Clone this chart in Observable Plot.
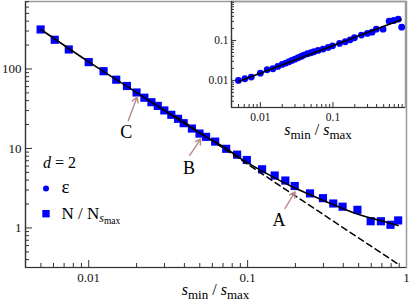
<!DOCTYPE html>
<html><head><meta charset="utf-8">
<script src="https://cdn.jsdelivr.net/npm/d3@7"></script>
<script src="https://cdn.jsdelivr.net/npm/@observablehq/plot@0.6"></script>
<style>
body{margin:0;background:#fff;}
#wrap{position:relative;width:409px;height:302px;}
#wrap svg{position:absolute;top:0;}
#wrap svg, #wrap svg text, #wrap svg g{font-family:'Liberation Serif',serif !important;}
</style></head><body><div id="wrap"></div>
<script>
// ---------- data ----------
const sRatio = [0.00498,0.00611,0.00749,0.0100,0.0124,0.0149,0.0174,0.0200,0.0224,0.0248,0.0272,0.0299,0.0331,0.0365,0.0396,0.0446,0.0498,0.0548,0.0625,0.0733,0.0859,0.0989,0.1233,0.148,0.1727,0.198,0.247,0.298,0.346,0.396,0.491,0.595,0.69,0.793,0.886];
const nRatio = [314,233,176,122,93.8,73.3,61.1,50.6,43.5,38.2,34.3,30.1,26.5,23.6,20.8,17.8,15.4,14.0,12.2,9.9,8.36,7.16,5.47,4.57,3.95,3.37,2.72,2.37,2.03,1.85,1.69,1.214,1.214,1.096,1.243];
const epsValues = [0.0100,0.0110,0.0121,0.0152,0.0185,0.0196,0.0224,0.0251,0.0271,0.0293,0.0316,0.0341,0.0369,0.0398,0.0430,0.0465,0.0492,0.0521,0.0562,0.0607,0.0668,0.0736,0.0841,0.0927,0.104,0.117,0.136,0.150,0.161,0.192,0.192,0.304,0.316,0.341,0.215];

const fitX = [0.005,0.01,0.02,0.03,0.05,0.0733,0.09,0.145,0.197,0.30,0.485,0.785,0.886];
const fitY = [314,123,50.5,30,15.6,10.0,7.5,4.36,3.2,2.22,1.51,1.15,1.075];
const powerX = [0.035,0.886];
const powerY = [25.5,0.35];
const insetFitX = [0.005,0.87];
const insetFitY = [0.0094,0.329];

const markLabels = ["C","B","A"];
const arrowTailX = [0.01776,0.04322,0.172];
const arrowTailY = [22.5,8.17,1.759];
const arrowTipX = [0.02014,0.05068,0.1988];
const arrowTipY = [44.4,13.17,2.836];
const labelX = [0.01725,0.04273,0.1577];
const labelY = [15.9,5.56,1.243];

const xDomain = [0.004,1];
const yDomain = [0.318,706];
const xMajor = [0.01,0.1,1];
const xMinor = [0.005,0.006,0.007,0.008,0.009,0.02,0.03,0.04,0.05,0.06,0.07,0.08,0.09,0.2,0.3,0.4,0.5,0.6,0.7,0.8,0.9];
const yMajor = [1,10,100];
const yMinor = [0.4,0.5,0.6,0.7,0.8,0.9,2,3,4,5,6,7,8,9,20,30,40,50,60,70,80,90,200,300,400,500,600,700];

const insetXDomain = [0.004,1];
const insetYDomain = [0.0021,0.944];
const insetYMajor = [0.01,0.1];
const insetYMinor = [0.003,0.004,0.005,0.006,0.007,0.008,0.009,0.02,0.03,0.04,0.05,0.06,0.07,0.08,0.09,0.2,0.3,0.4,0.5,0.6,0.7,0.8,0.9];
const insetXMajor = [0.01,0.1,1];

// ---------- tables ----------
const points = sRatio.map((s,i)=>({s, n:nRatio[i], e:epsValues[i]}));
const fit = fitX.map((x,i)=>({x, y:fitY[i]}));
const power = powerX.map((x,i)=>({x, y:powerY[i]}));
const insetFit = insetFitX.map((x,i)=>({x, y:insetFitY[i]}));
const notes = markLabels.map((t,i)=>({t, x1:arrowTailX[i], y1:arrowTailY[i], x2:arrowTipX[i], y2:arrowTipY[i], lx:labelX[i], ly:labelY[i]}));

const FONT = "'Liberation Serif', serif";
const AX = "#333";
const FR = "#9a9a9a";
const BLUE = "#0000ff";
const ROSE = "#bc8f8f";

// ---------- main chart ----------
const mW = 409, mH = 302, mL = 25, mR = 3, mT = 1, mB = 35;
const pW = mW - mL - mR, pH = mH - mT - mB;
const main = Plot.plot({
  width: mW, height: mH, marginLeft: mL, marginRight: mR, marginTop: mT, marginBottom: mB,
  style: {fontFamily: FONT, fontSize: "13px", background: "white", color: "#111"},
  x: {type: "log", domain: xDomain},
  y: {type: "log", domain: yDomain},
  marks: [
    Plot.frame({stroke: FR, strokeWidth: 1.5}),
    Plot.ruleX([xDomain[0]], {stroke: AX, strokeWidth: 1.2}),
    Plot.ruleY([yDomain[0]], {stroke: AX, strokeWidth: 1.2}),
    Plot.tickX(xMajor.filter(d=>d<1), {x: d=>d, insetTop: pH-7, stroke: AX}),
    Plot.tickX(xMinor, {x: d=>d, insetTop: pH-4, stroke: AX}),
    Plot.tickY(yMajor, {y: d=>d, insetRight: pW-7, stroke: AX}),
    Plot.tickY(yMinor, {y: d=>d, insetRight: pW-4, stroke: AX}),
    Plot.axisX({ticks: xMajor, tickSize: 0, tickPadding: 5, tickFormat: d=>String(d), label: null, fontSize: 13}),
    Plot.axisY({ticks: yMajor, tickSize: 0, tickPadding: 4, tickFormat: d=>String(d), label: null, fontSize: 13}),
    Plot.dot(points, {x: "s", y: "n", symbol: "square", r: 4.6, fill: BLUE}),
    Plot.line(power, {x: "x", y: "y", stroke: "black", strokeWidth: 1.5, strokeDasharray: "6,4"}),
    Plot.line(fit, {x: "x", y: "y", curve: "catmull-rom", stroke: "black", strokeWidth: 1.6}),
    Plot.arrow(notes, {x1: "x1", y1: "y1", x2: "x2", y2: "y2", stroke: ROSE, strokeWidth: 1.5, headLength: 6}),
    Plot.text(notes, {x: "lx", y: "ly", text: "t", fontSize: 18, fill: "black"})
  ]
});
main.style.left = "0px";
document.getElementById("wrap").appendChild(main);

// axis titles and legend as real text
function axisTitle(svg, cx, y) {
  const t = d3.select(svg).append("text").attr("x", cx).attr("y", y).attr("text-anchor", "middle")
    .style("font-family", FONT).attr("fill", "black").attr("font-size", 16);
  t.append("tspan").attr("font-style", "italic").text("s");
  t.append("tspan").attr("font-size", 13).attr("dy", 4).text("min");
  t.append("tspan").attr("dy", -4).text(" / ");
  t.append("tspan").attr("font-style", "italic").text("s");
  t.append("tspan").attr("font-size", 13).attr("dy", 4).text("max");
}
axisTitle(main, (mL + mW - mR)/2, 295);

const g = d3.select(main).append("g").style("font-family", FONT).attr("fill", "black").attr("text-anchor", "start");
const dt = g.append("text").attr("x", 43).attr("y", 168).attr("font-size", 16).attr("text-anchor", "start");
dt.append("tspan").attr("font-style", "italic").text("d");
dt.append("tspan").text(" = 2");
g.append("circle").attr("cx", 46).attr("cy", 188.5).attr("r", 3).attr("fill", BLUE);
g.append("text").attr("x", 61.5).attr("y", 193).attr("font-size", 19).attr("text-anchor", "start").text("ε");
g.append("rect").attr("x", 42.3).attr("y", 210).attr("width", 7.4).attr("height", 7.4).attr("fill", BLUE);
const nt = g.append("text").attr("x", 61.5).attr("y", 218.5).attr("font-size", 17).attr("text-anchor", "start");
nt.append("tspan").text("N / N");
nt.append("tspan").attr("font-size", 12).attr("font-style", "italic").attr("dy", 3).text("s");
nt.append("tspan").attr("font-size", 9.5).attr("dy", 2.5).text("max");

// ---------- inset ----------
const iLeft = 200;
const iW = 209, iH = 145, iL = 31, iR = 4, iT = 1, iB = 38;
const ipW = iW - iL - iR, ipH = iH - iT - iB;
const inset = Plot.plot({
  width: iW, height: iH, marginLeft: iL, marginRight: iR, marginTop: iT, marginBottom: iB,
  style: {fontFamily: FONT, fontSize: "11.5px", background: "transparent", color: "#111"},
  x: {type: "log", domain: insetXDomain},
  y: {type: "log", domain: insetYDomain},
  marks: [
    Plot.frame({stroke: FR, strokeWidth: 1.5}),
    Plot.ruleX([insetXDomain[0]], {stroke: AX, strokeWidth: 1.2}),
    Plot.ruleY([insetYDomain[0]], {stroke: AX, strokeWidth: 1.2}),
    Plot.tickX(insetXMajor.filter(d=>d<1), {x: d=>d, insetTop: ipH-5, stroke: AX}),
    Plot.tickX(xMinor, {x: d=>d, insetTop: ipH-3, stroke: AX}),
    Plot.tickY(insetYMajor, {y: d=>d, insetRight: ipW-5, stroke: AX}),
    Plot.tickY(insetYMinor, {y: d=>d, insetRight: ipW-3, stroke: AX}),
    Plot.axisX({ticks: insetXMajor.filter(d=>d<1), tickSize: 0, tickPadding: 5, tickFormat: d=>String(d), label: null, fontSize: 11.5}),
    Plot.axisY({ticks: insetYMajor, tickSize: 0, tickPadding: 3, tickFormat: d=>String(d), label: null, fontSize: 11.5}),
    Plot.dot(points, {x: "s", y: "e", r: 3.4, fill: BLUE}),
    Plot.line(insetFit, {x: "x", y: "y", stroke: "black", strokeWidth: 1.6})
  ]
});
inset.style.left = iLeft + "px";
document.getElementById("wrap").appendChild(inset);
axisTitle(inset, (iL + iW - iR)/2, 135);
</script>
</body></html>
